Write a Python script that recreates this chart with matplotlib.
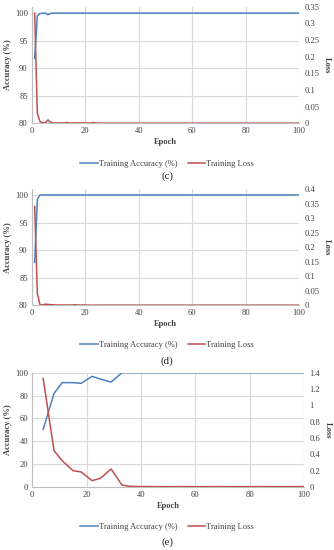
import matplotlib
matplotlib.use("Agg")
import matplotlib.pyplot as plt
from matplotlib.lines import Line2D

plt.rcParams['font.family'] = ['Liberation Serif', 'DejaVu Serif']

# ---------------- data ----------------
epochs_cd = list(range(1, 101))

acc_c = [91.8, 99.5, 99.9, 100.0, 100.0, 99.7, 99.95] + [100.0] * 93
loss_c = [0.33, 0.03, 0.005, 0.002, 0.002, 0.01, 0.003, 0.001, 0.001, 0.001,
          0.001, 0.001, 0.002, 0.001, 0.001, 0.001, 0.001, 0.001, 0.001, 0.001,
          0.001, 0.001, 0.002, 0.001] + [0.0005] * 76

acc_d = [87.8, 99.2, 100.0] + [100.0] * 97
loss_d = [0.341, 0.041, 0.002, 0.001, 0.004, 0.003, 0.002, 0.002, 0.001, 0.001,
          0.001, 0.001, 0.001, 0.001, 0.001, 0.002, 0.001, 0.001, 0.001, 0.001] + [0.0005] * 80

epochs_e = [4, 8, 11, 15, 18, 22, 25, 29, 33, 36, 40, 43, 47, 51, 54, 58, 61,
            65, 69, 72, 76, 79, 83, 87, 90, 94, 97, 100]
acc_e = [50.4, 81.9, 91.3, 91.3, 90.7, 96.8, 94.5, 91.8, 100.0, 100.0, 100.0,
         100.0, 100.0, 100.0, 100.0, 100.0, 100.0, 100.0, 100.0, 100.0, 100.0,
         100.0, 100.0, 100.0, 100.0, 100.0, 100.0, 100.0]
loss_e = [1.33, 0.445, 0.322, 0.20, 0.184, 0.078, 0.106, 0.22, 0.024, 0.008,
          0.005, 0.005, 0.004, 0.004, 0.005, 0.004, 0.004, 0.004, 0.005, 0.004,
          0.004, 0.004, 0.005, 0.004, 0.004, 0.004, 0.004, 0.006]

x_ticks = [0, 20, 40, 60, 80, 100]
acc_ticks_cd = [80, 85, 90, 95, 100]
acc_ticks_e = [0, 20, 40, 60, 80, 100]
loss_ticks_c = [0, 0.05, 0.1, 0.15, 0.2, 0.25, 0.3, 0.35]
loss_ticks_d = [0, 0.05, 0.1, 0.15, 0.2, 0.25, 0.3, 0.35, 0.4]
loss_ticks_e = [0, 0.2, 0.4, 0.6, 0.8, 1, 1.2, 1.4]

captions = ["(c)", "(d)", "(e)"]
legend_labels = ["Training Accuracy (%)", "Training Loss"]

BLUE = "#4f81bd"
RED = "#c0504d"
GRID = "#d9d9d9"
TXT = "#404040"
FS = 6.1

fig = plt.figure(figsize=(3.34, 5.5), dpi=100)
W, H = 334.0, 550.0

panels = [
    dict(x=epochs_cd, acc=acc_c, loss=loss_c, left=32, right=299, top=6.5, bottom=123.3,
         ylim=(80, 101.2), yticks=acc_ticks_cd, y2lim=(0, 0.35), y2ticks=loss_ticks_c,
         leg_y=164, cap_y=176),
    dict(x=epochs_cd, acc=acc_d, loss=loss_d, left=32, right=299, top=189.3, bottom=305.3,
         ylim=(80, 101.03), yticks=acc_ticks_cd, y2lim=(0, 0.4), y2ticks=loss_ticks_d,
         leg_y=345, cap_y=361),
    dict(x=epochs_e, acc=acc_e, loss=loss_e, left=32.3, right=304, top=372.7, bottom=487,
         ylim=(0, 100), yticks=acc_ticks_e, y2lim=(0, 1.4), y2ticks=loss_ticks_e,
         leg_y=527, cap_y=542),
]

def fmt(v):
    s = ("%.2f" % v).rstrip("0").rstrip(".")
    return s

for p, cap in zip(panels, captions):
    ax = fig.add_axes([p['left'] / W, 1 - p['bottom'] / H,
                       (p['right'] - p['left']) / W, (p['bottom'] - p['top']) / H])
    ax.set_xlim(0, 100)
    ax.set_ylim(*p['ylim'])
    ax.set_xticks(x_ticks)
    ax.set_yticks(p['yticks'])
    ax.set_xticklabels([str(t) for t in x_ticks])
    ax.set_yticklabels([str(t) for t in p['yticks']])
    ax.grid(True, color=GRID, lw=0.8)
    ax.set_axisbelow(True)
    for s in ['top', 'right']:
        ax.spines[s].set_visible(False)
    for s in ['left', 'bottom']:
        ax.spines[s].set_color("#bfbfbf")
        ax.spines[s].set_linewidth(0.8)
    ax.tick_params(length=0, labelsize=FS, colors=TXT, pad=3)
    ax.set_xlabel("Epoch", fontsize=FS, fontweight='bold', color=TXT, labelpad=2)
    ax.set_ylabel("Accuracy (%)", fontsize=FS, fontweight='bold', color=TXT, labelpad=2)
    ax.plot(p['x'], p['acc'], color=BLUE, lw=1.1, zorder=3)

    ax2 = ax.twinx()
    ax2.set_ylim(*p['y2lim'])
    ax2.set_yticks(p['y2ticks'])
    ax2.set_yticklabels([fmt(t) for t in p['y2ticks']])
    for s in ['top', 'right', 'left', 'bottom']:
        ax2.spines[s].set_visible(False)
    ax2.tick_params(length=0, labelsize=FS, colors=TXT, pad=4)
    ax2.set_ylabel("Loss", fontsize=FS, fontweight='bold', color=TXT, rotation=270, labelpad=8)
    ax2.plot(p['x'], p['loss'], color=RED, lw=1.1, zorder=3)

    handles = [Line2D([], [], color=BLUE, lw=1.1), Line2D([], [], color=RED, lw=1.1)]
    fig.legend(handles, legend_labels, loc='center', bbox_to_anchor=(167 / W, 1 - p['leg_y'] / H),
               ncol=2, frameon=False, fontsize=FS, handlelength=2.1, handletextpad=0.1,
               columnspacing=1.2, labelcolor=TXT)
    fig.text(167 / W, 1 - p['cap_y'] / H, cap, ha='center', va='center', fontsize=7.8, color="#202020")

fig.savefig("out.png", dpi=100)
